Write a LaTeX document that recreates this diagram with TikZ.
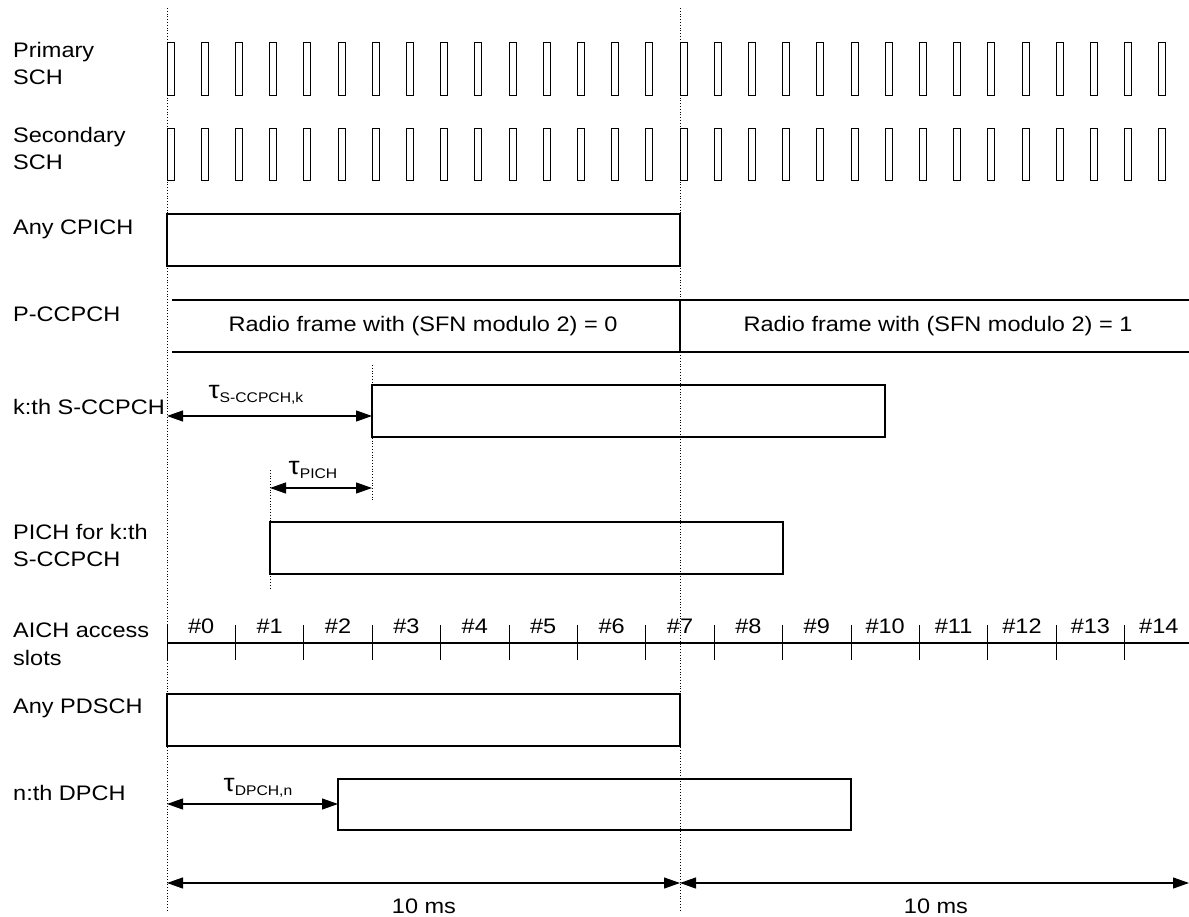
\documentclass[tikz,border=0pt]{standalone}
\usepackage{fontspec}
\setmainfont{Liberation Sans}[FakeStretch=1.12]
\usetikzlibrary{arrows.meta}

\begin{document}
\begin{tikzpicture}[x=1pt,y=-1pt,
  every node/.style={font=\fontsize{21}{27.5}\selectfont, inner sep=0pt},
  chan/.style={draw, line width=1.1pt},
  pulse/.style={draw, line width=0.9pt},
  grid/.style={dotted, line width=0.8pt},
  dim/.style={{Triangle[length=16pt,width=11pt]}-{Triangle[length=16pt,width=11pt]}, line width=1.1pt},
  lbl/.style={anchor=base west},
  lbltwo/.style={anchor=north west, align=left}]

\newcommand\XO{167}
\newcommand\XM{680}
\newcommand\SL{34.2}
\newcommand\LEN{513}
\newcommand\TAU{{\fontsize{25}{25}\selectfont τ}}
\newcommand\SUBT[1]{\raisebox{-4pt}{\fontsize{14}{14}\selectfont #1}}

\useasboundingbox (0,0) rectangle (1189,917);

%% frame boundaries
\draw[grid] (\XO,8) -- (\XO,912);
\draw[grid] (\XM,8) -- (\XM,912);

%% SCH
\node[lbltwo] (psch) at (13,42) {Primary\\SCH};
\node[lbltwo] (ssch) at (13,127) {Secondary\\SCH};
\foreach \k in {0,...,29} {
  \draw[pulse] ({\XO+\k*\SL},42) rectangle ++(7,53);
  \draw[pulse] ({\XO+\k*\SL},128) rectangle ++(7,52);
}

%% CPICH
\node[lbl] (cpich) at (13,235) {Any CPICH};
\draw[chan] (\XO,214) rectangle ++(\LEN,52);

%% P-CCPCH
\node[lbl] (pccpch) at (13,322) {P-CCPCH};
\draw[chan] (172,300) -- (1189,300);
\draw[chan] (172,352) -- (1189,352);
\draw[chan] (\XM,300) -- (\XM,352);
\node[anchor=base] (rf0) at (423,332) {Radio frame with (SFN modulo 2) = 0};
\node[anchor=base] (rf1) at (938,332) {Radio frame with (SFN modulo 2) = 1};

%% S-CCPCH
\node[lbl] (sccpch) at (13,414) {k:th S-CCPCH};
\draw[grid] (372,365) -- (372,502);
\draw[chan] (372,385) rectangle ++(\LEN,52);
\coordinate (sc0) at (\XO,416);
\coordinate (sc1) at (372,416);
\draw[dim] (sc0) -- (sc1);
\node[anchor=base] (tsc) at (256,398) {\TAU\SUBT{S-CCPCH,k}};

%% PICH
\draw[grid] (270,470) -- (270,590);
\coordinate (pi0) at (270,488);
\coordinate (pi1) at (372,488);
\draw[dim] (pi0) -- (pi1);
\node[anchor=base] (tpi) at (313,474) {\TAU\SUBT{PICH}};
\node[lbltwo] (pich) at (13,524) {PICH for k:th\\S-CCPCH};
\draw[chan] (270,522) rectangle ++(\LEN,52);

%% AICH
\node[lbltwo] (aich) at (13,623) {AICH access\\slots};
\draw[chan] (\XO,643) -- (1189,643);
\foreach \k in {0,...,14} {
  \draw[line width=0.9pt] ({\XO+2*\k*\SL},625) -- ({\XO+2*\k*\SL},660);
  \node[anchor=base] (as\k) at ({\XO+\SL+2*\k*\SL},633) {\#\k};
}

%% PDSCH
\node[lbl] (pdsch) at (13,713) {Any PDSCH};
\draw[chan] (\XO,694) rectangle ++(\LEN,52);

%% DPCH
\node[lbl] (dpch) at (13,800) {n:th DPCH};
\draw[chan] (338,779) rectangle ++(\LEN,51);
\coordinate (dp0) at (\XO,804);
\coordinate (dp1) at (338,804);
\draw[dim] (dp0) -- (dp1);
\node[anchor=base] (tdp) at (258,791) {\TAU\SUBT{DPCH,n}};

%% 10 ms
\coordinate (ms0) at (\XO,883);
\coordinate (ms1) at (\XM,883);
\coordinate (ms2) at (1189,883);
\draw[dim] (ms0) -- (ms1);
\draw[dim] (ms1) -- (ms2);
\node[anchor=base] (ten0) at (424,913) {10 ms};
\node[anchor=base] (ten1) at (936,913) {10 ms};

\end{tikzpicture}
\end{document}
